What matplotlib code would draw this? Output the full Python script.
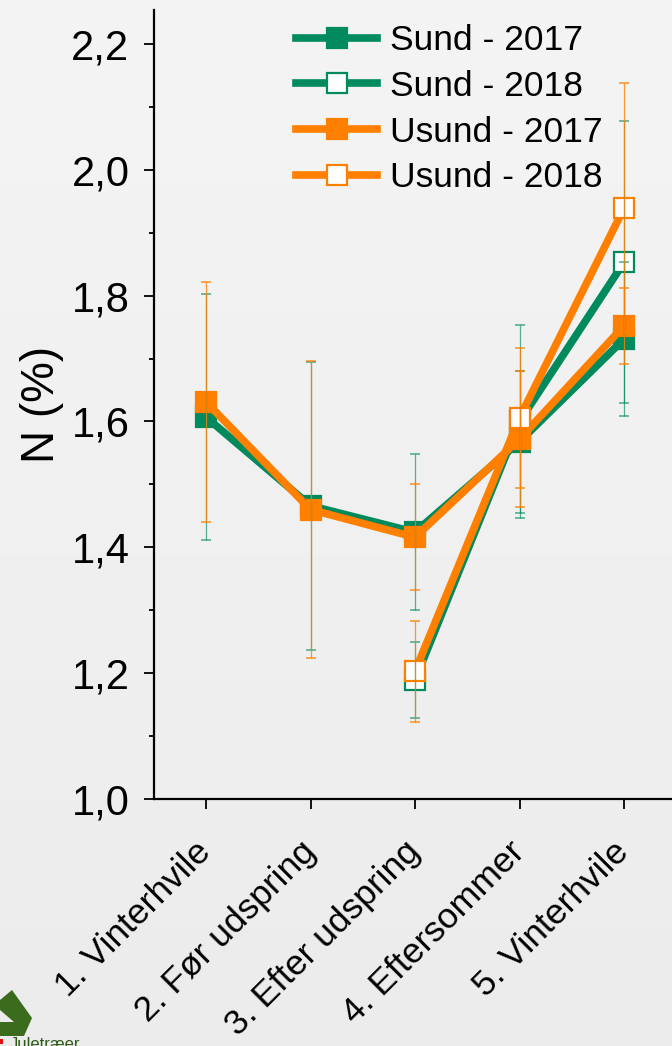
import numpy as np
import matplotlib
matplotlib.use("Agg")
import matplotlib.pyplot as plt
from matplotlib.lines import Line2D
from matplotlib.patches import Polygon, Rectangle
from matplotlib.ticker import FuncFormatter, MultipleLocator

plt.rcParams["font.family"] = ["Liberation Sans", "DejaVu Sans"]

nan = np.nan
stages = ["1. Vinterhvile", "2. Før udspring", "3. Efter udspring",
          "4. Eftersommer", "5. Vinterhvile"]

sund_2017 = [1.607, 1.466, 1.424, 1.568, 1.731]
sund_2017_err = [0.196, 0.229, 0.124, 0.113, 0.122]
sund_2018 = [nan, nan, 1.189, 1.600, 1.853]
sund_2018_err = [nan, nan, 0.060, 0.154, 0.224]
usund_2017 = [1.631, 1.460, 1.416, 1.572, 1.752]
usund_2017_err = [0.190, 0.236, 0.084, 0.108, 0.060]
usund_2018 = [nan, nan, 1.203, 1.606, 1.939]
usund_2018_err = [nan, nan, 0.080, 0.111, 0.199]

GREEN = "#008A5E"
ORANGE = "#FF8000"

series = [
    ("Sund - 2017", sund_2017, sund_2017_err, GREEN, True),
    ("Sund - 2018", sund_2018, sund_2018_err, GREEN, False),
    ("Usund - 2017", usund_2017, usund_2017_err, ORANGE, True),
    ("Usund - 2018", usund_2018, usund_2018_err, ORANGE, False),
]

W, H = 672, 1046
fig = plt.figure(figsize=(W / 100, H / 100), dpi=100)

# soft grey backdrop, a touch lighter at the top
bg = fig.add_axes([0, 0, 1, 1], zorder=-10)
grad = np.linspace(0.955, 0.922, 256)[:, None]
bg.imshow(np.repeat(grad, 2, axis=1), cmap="gray", vmin=0, vmax=1,
          aspect="auto", extent=[0, 1, 0, 1])
bg.axis("off")

ax = fig.add_axes([153.75 / W, 247 / H, 522.5 / W, 789 / H])
ax.set_facecolor("none")

x = np.arange(1, len(stages) + 1)
handles = []
for label, vals, errs, col, filled in series:
    v = np.array(vals, float)
    ax.plot(x, v, "-s", color=col, lw=5.5, ms=14,
            mfc=col if filled else "white", mec=col, mew=1.6, zorder=3)
    handles.append(Line2D([0], [0], color=col, lw=5.5, marker="s", ms=14,
                          mfc=col if filled else "white", mec=col, mew=1.6,
                          label=label))

# whiskers sit on top of the markers
for label, vals, errs, col, filled in series:
    ax.errorbar(x, np.array(vals, float), yerr=np.array(errs, float), fmt="none",
                ecolor=col, elinewidth=0.9, capsize=3.6, capthick=1.2,
                alpha=0.65 if col == GREEN else 0.8, zorder=5)

ax.set_xlim(0.5, 5.5)
ax.set_ylim(1.0, 2.254)
ax.yaxis.set_major_locator(MultipleLocator(0.2))
ax.yaxis.set_minor_locator(MultipleLocator(0.1))
ax.yaxis.set_major_formatter(FuncFormatter(lambda v, p: f"{v:.1f}".replace(".", ",")))
ax.tick_params(axis="y", which="major", length=7.5, width=1.3, labelsize=30, pad=10)
ax.tick_params(axis="y", which="minor", length=3.8, width=1.3)
ax.set_xticks(x)
ax.set_xticklabels(stages, rotation=45, ha="right", va="center",
                   rotation_mode="anchor")
ax.tick_params(axis="x", length=7.5, width=1.3, labelsize=25.5, pad=27)
ax.set_ylabel("N (%)", fontsize=33, labelpad=5)

for s in ("top", "right"):
    ax.spines[s].set_visible(False)
for s in ("left", "bottom"):
    ax.spines[s].set_linewidth(1.6)

fig.legend(handles=handles, loc="upper left", bbox_to_anchor=(296 / W, 1 - 24 / H),
           frameon=False, fontsize=25.5, handlelength=2.3, handletextpad=0.35,
           labelspacing=0.36, borderpad=0, borderaxespad=0)

# corner logo, cut off by the bottom edge (pixel coords from the top-left)
logo = [(0, 1000), (12, 990), (32, 1018), (24, 1036), (0, 1036),
        (0, 1022), (14, 1022), (0, 1010)]
fig.patches.append(Polygon([(px, H - py) for px, py in logo], closed=True,
                           transform=None, facecolor="#3b6b1c", edgecolor="none"))
fig.patches.append(Rectangle((0, H - 1044), 3, 5, transform=None,
                             facecolor="#e01010", edgecolor="none"))
fig.text(10 / W, 1 - 1037 / H, "Juletræer", color="#2f5a18", fontsize=12,
         va="top", ha="left")

fig.savefig("out.png", dpi=100)
